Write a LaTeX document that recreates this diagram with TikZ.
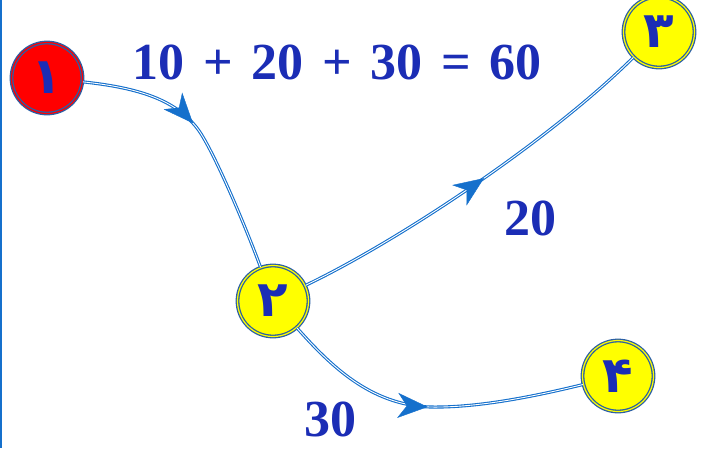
\documentclass[tikz,border=0pt]{standalone}
\usepackage{fontspec}
\setmainfont{Liberation Serif}
\newfontfamily\arabicfont[Script=Arabic]{DejaVu Sans}
\usetikzlibrary{arrows.meta,decorations.markings}
\definecolor{edgecol}{HTML}{1570CC}
\definecolor{ringcol}{HTML}{2B5FA5}
\definecolor{txtcol}{HTML}{1B2DB5}
\definecolor{nodeyellow}{HTML}{FFFF00}
\definecolor{nodered}{HTML}{FF0000}
\tikzset{
  vnode/.style={circle, minimum size=71pt, inner sep=0pt, draw=ringcol, line width=1.3pt,
     double distance=1.2pt, text=txtcol, font=\arabicfont\bfseries\fontsize{50}{50}\selectfont},
  ynode/.style={vnode, fill=nodeyellow, double=nodeyellow},
  rnode/.style={vnode, fill=nodered, double=nodered},
  edge/.style={draw=edgecol, line width=1.1pt, double=white, double distance=0.9pt},
  arrowat/.style={decoration={markings, mark=at position #1 with {\arrow[edgecol]{Stealth[length=30pt,width=25pt,inset=9pt]}}}, postaction={decorate}},
  lbl/.style={text=txtcol, font=\bfseries\fontsize{52}{52}\selectfont, inner sep=0pt}
}
\begin{document}
\begin{tikzpicture}[x=1pt,y=-1pt]
\useasboundingbox (0,0) rectangle (701,448);
\draw[edgecol, line width=2pt] (1,0) -- (1,448);
\node[rnode] (n1) at (47,78) {١};
\node[ynode] (n2) at (273,301) {٢};
\node[ynode] (n3) at (659,32) {٣};
\node[ynode] (n4) at (618,376) {۴};
% edges
\path[edge] (n1) .. controls (140,88) and (175,100) .. (197,128) .. controls (212,147) and (245,225) .. (n2);
\path[arrowat=0.43] (n1) .. controls (140,88) and (175,100) .. (197,128) .. controls (212,147) and (245,225) .. (n2);
\path[edge] (n2) .. controls (400,240) and (550,140) .. (n3);
\path[arrowat=0.52] (n2) .. controls (400,240) and (550,140) .. (n3);
\path[edge] (n2) .. controls (330,365) and (370,405) .. (430,407) .. controls (480,408) and (540,395) .. (n4);
\path[arrowat=0.5] (n2) .. controls (330,365) and (370,405) .. (430,407) .. controls (480,408) and (540,395) .. (n4);
% labels
\node[lbl] (sum) at (337,62) {10\hspace{0.36em}+\hspace{0.36em}20\hspace{0.36em}+\hspace{0.36em}30\hspace{0.36em}=\hspace{0.36em}60};
\node[lbl] (l20) at (530,218) {20};
\node[lbl] (l30) at (330,419) {30};
\end{tikzpicture}
\end{document}
